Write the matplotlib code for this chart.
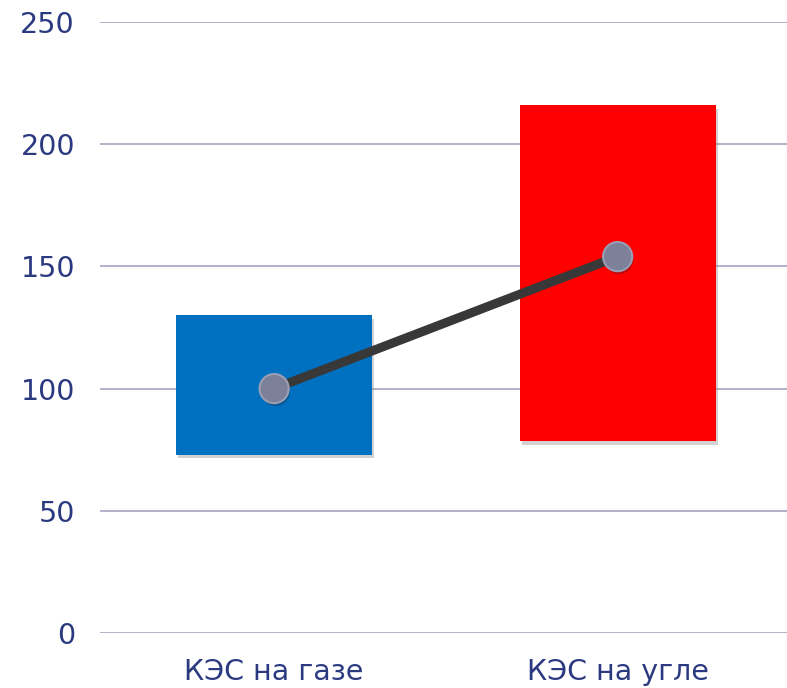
import matplotlib.pyplot as plt
import matplotlib.patheffects as pe

# data
categories = ["КЭС на газе", "КЭС на угле"]
range_low = [73, 78.5]
range_high = [130, 216]
mid_values = [100, 154]
bar_colors = ["#0070C0", "#FF0000"]
y_ticks = [0, 50, 100, 150, 200, 250]

text_color = "#2B3A80"
grid_color = "#9C9CBC"

fig = plt.figure(figsize=(7.87, 6.88), dpi=100)
ax = fig.add_axes([0.127, 0.080, 0.873, 0.888])

x = list(range(len(categories)))
heights = [h - l for l, h in zip(range_low, range_high)]

# range bars with a soft drop shadow
ax.bar(x, heights, bottom=range_low, width=0.57, color=bar_colors, zorder=3,
       path_effects=[pe.SimplePatchShadow(offset=(1.5, -2.5), shadow_rgbFace="#808080", alpha=0.35),
                     pe.Normal()])

# connecting line and markers
ax.plot(x, mid_values, color="#383838", linewidth=6.5, zorder=4, solid_capstyle="round")
ax.plot(x, mid_values, linestyle="none", marker="o", markersize=21,
        markerfacecolor="#7C8099", markeredgecolor="#9A9EB5", markeredgewidth=1.5, zorder=5,
        path_effects=[pe.SimplePatchShadow(offset=(1, -2), shadow_rgbFace="#202020", alpha=0.3),
                      pe.Normal()])

ax.set_xlim(-0.507, len(categories) - 0.507)
ax.set_ylim(0, 250)
ax.set_yticks(y_ticks)
ax.set_xticks(x)
ax.set_xticklabels(categories)

ax.yaxis.grid(True, color=grid_color, linewidth=1.1, zorder=0)
ax.set_axisbelow(True)
for side in ["top", "right", "left", "bottom"]:
    ax.spines[side].set_visible(False)

ax.tick_params(axis="both", length=0, labelcolor=text_color, labelsize=20.5)
ax.tick_params(axis="y", pad=18)
ax.tick_params(axis="x", pad=18)
for lbl in ax.get_xticklabels() + ax.get_yticklabels():
    lbl.set_fontfamily("DejaVu Sans")

fig.savefig("out.png", dpi=100)
